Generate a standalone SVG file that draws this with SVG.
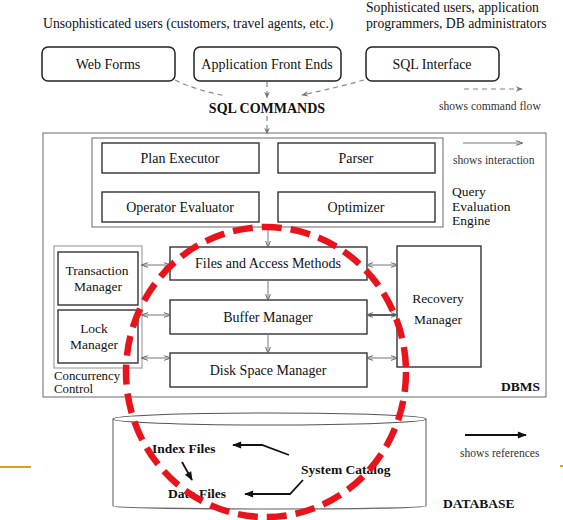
<svg xmlns="http://www.w3.org/2000/svg" width="563" height="520" viewBox="0 0 563 520">
<style>
text{font-family:"Liberation Serif","Times New Roman",serif;fill:#111}
.lbl{font-size:14px;text-anchor:middle}
.sm{font-size:11.6px;fill:#333}
.top{font-size:13.7px}
.b{font-weight:bold}
.ubox{fill:#fff;stroke:#222;stroke-width:1.5}
.box{fill:#fff;stroke:#333;stroke-width:1.4}
.frame{fill:none;stroke:#777;stroke-width:1.1}
.cmd{fill:none;stroke:#888;stroke-width:1.2;stroke-dasharray:5 4}
.int{fill:none;stroke:#777;stroke-width:1}
.ref{fill:none;stroke:#111;stroke-width:1.8}
</style>
<defs>
<marker id="mCmd" viewBox="0 0 10 10" refX="9" refY="5" markerWidth="7" markerHeight="7" orient="auto-start-reverse" markerUnits="userSpaceOnUse"><path d="M0,1 L10,5 L0,9 L3,5 Z" fill="#777"/></marker>
<marker id="mInt" viewBox="0 0 10 10" refX="9" refY="5" markerWidth="7" markerHeight="7" orient="auto-start-reverse" markerUnits="userSpaceOnUse"><path d="M0,1.5 L10,5 L0,8.5" fill="none" stroke="#666" stroke-width="1.4"/></marker>
<marker id="mRef" viewBox="0 0 10 10" refX="9" refY="5" markerWidth="10" markerHeight="9" orient="auto" markerUnits="userSpaceOnUse"><path d="M0,1 L10,5 L0,9 Z" fill="#111"/></marker>
</defs>

<!-- user labels -->
<text class="top" x="43" y="28">Unsophisticated users (customers, travel agents, etc.)</text>
<text class="top" x="366" y="12">Sophisticated users, application</text>
<text class="top" x="366" y="28">programmers, DB administrators</text>

<g id="web-forms"><rect class="ubox" x="42" y="47" width="133" height="34" rx="6"/><text class="lbl" x="108" y="69">Web Forms</text></g>
<g id="app-front-ends"><rect class="ubox" x="194" y="47" width="147" height="34" rx="6"/><text class="lbl" x="267" y="69">Application Front Ends</text></g>
<g id="sql-interface"><rect class="ubox" x="366" y="47" width="133" height="34" rx="6"/><text class="lbl" x="432" y="69">SQL Interface</text></g>

<text class="b" x="267" y="113" style="font-size:14px;text-anchor:middle">SQL COMMANDS</text>
<text class="sm" x="439" y="110">shows command flow</text>
<text class="sm" x="453" y="164">shows interaction</text>
<text class="sm" x="460" y="457">shows references</text>

<!-- DBMS frame -->
<g id="dbms"><rect class="frame" x="43" y="133" width="503" height="264"/><text class="b" x="540" y="391" style="font-size:13.5px;text-anchor:end">DBMS</text></g>

<g id="query-evaluation-engine">
<rect class="frame" x="92" y="138" width="351" height="89"/>
<text x="452" y="196" style="font-size:13.5px">Query</text>
<text x="452" y="211" style="font-size:13.5px">Evaluation</text>
<text x="452" y="225" style="font-size:13.5px">Engine</text>
</g>
<g id="plan-executor"><rect class="box" x="102" y="143" width="157" height="30"/><text class="lbl" x="180" y="163">Plan Executor</text></g>
<g id="parser"><rect class="box" x="278" y="143" width="157" height="30"/><text class="lbl" x="356" y="163">Parser</text></g>
<g id="operator-evaluator"><rect class="box" x="102" y="192" width="157" height="30"/><text class="lbl" x="180" y="212">Operator Evaluator</text></g>
<g id="optimizer"><rect class="box" x="278" y="192" width="157" height="30"/><text class="lbl" x="356" y="212">Optimizer</text></g>

<g id="files-access-methods"><rect class="box" x="170" y="247" width="197" height="33"/><text class="lbl" x="268" y="268">Files and Access Methods</text></g>
<g id="buffer-manager"><rect class="box" x="170" y="300" width="197" height="34"/><text class="lbl" x="268" y="322">Buffer Manager</text></g>
<g id="disk-space-manager"><rect class="box" x="170" y="353" width="197" height="34"/><text class="lbl" x="268" y="375">Disk Space Manager</text></g>

<g id="concurrency-control">
<rect class="frame" x="54" y="246" width="88" height="122" style="stroke:#999"/>
<text x="54" y="380" style="font-size:12.8px">Concurrency</text>
<text x="54" y="393" style="font-size:12.8px">Control</text>
</g>
<g id="transaction-manager"><rect class="box" x="58" y="252" width="80" height="53"/><text class="lbl" x="97" y="275" style="font-size:13.5px">Transaction</text><text class="lbl" x="98" y="291" style="font-size:13.5px">Manager</text></g>
<g id="lock-manager"><rect class="box" x="58" y="310" width="80" height="53"/><text class="lbl" x="94" y="333" style="font-size:13.5px">Lock</text><text class="lbl" x="94" y="349" style="font-size:13.5px">Manager</text></g>
<g id="recovery-manager"><rect class="box" x="397" y="246" width="84" height="121"/><text class="lbl" x="438" y="303" style="font-size:13.5px">Recovery</text><text class="lbl" x="438" y="324" style="font-size:13.5px">Manager</text></g>

<!-- database -->
<g id="database">
<path d="M113,419 L113,506 A156.5,3 0 0 0 426,506 L426,419" fill="#fff" stroke="#666" stroke-width="1.1"/>
<ellipse cx="269.5" cy="419" rx="156.5" ry="6" fill="#fff" stroke="#555" stroke-width="1.1"/>
<text class="b" x="443" y="508" style="font-size:13.5px">DATABASE</text>
</g>
<g id="index-files"><text class="b" x="152" y="453" style="font-size:13.5px">Index Files</text></g>
<g id="system-catalog"><text class="b" x="301" y="474" style="font-size:13.5px">System Catalog</text></g>
<g id="data-files"><text class="b" x="168" y="498" style="font-size:13.5px">Data Files</text></g>

<!-- connectors -->
<g id="connectors">
<path class="cmd" d="M175,80 Q195,90 226,96"/>
<path class="cmd" d="M364,80 Q335,88 302,95" marker-end="url(#mCmd)"/>
<path class="cmd" d="M267,82 L267,98" marker-end="url(#mCmd)"/>
<path class="cmd" d="M267,116 L267,134" marker-end="url(#mCmd)"/>
<path class="cmd" d="M464,89 L522,89" marker-end="url(#mCmd)"/>

<path class="int" d="M463,143 L522,143" marker-end="url(#mInt)"/>
<path class="int" d="M268,227 L268,247" marker-end="url(#mInt)"/>
<path class="int" d="M268,280 L268,300" marker-end="url(#mInt)"/>
<path class="int" d="M268,334 L268,353" marker-end="url(#mInt)"/>
<path class="int" d="M142,265 L170,265" marker-start="url(#mInt)" marker-end="url(#mInt)"/>
<path class="int" d="M142,315 L170,315" marker-start="url(#mInt)" marker-end="url(#mInt)"/>
<path class="int" d="M142,358 L170,358" marker-start="url(#mInt)" marker-end="url(#mInt)"/>
<path class="int" d="M367,265 L397,265" marker-start="url(#mInt)" marker-end="url(#mInt)"/>
<path class="int" d="M367,315 L397,315" style="stroke:#333;stroke-width:1.6" marker-start="url(#mInt)" marker-end="url(#mInt)"/>
<path class="int" d="M367,358 L397,358" marker-start="url(#mInt)" marker-end="url(#mInt)"/>

<path class="ref" d="M289,455 L262,445 L233,445" marker-end="url(#mRef)"/>
<path class="ref" d="M303,480 L290,494 L245,494" marker-end="url(#mRef)"/>
<path class="ref" d="M182,462 L192,480" marker-end="url(#mRef)"/>
<path class="ref" d="M465,435 L526,435" marker-end="url(#mRef)"/>
</g>

<!-- highlight overlay -->
<line x1="0" y1="467" x2="31" y2="467" stroke="#d9a21b" stroke-width="2"/>
<line x1="560" y1="466" x2="563" y2="466" stroke="#d9a21b" stroke-width="2"/>
<ellipse cx="266" cy="372" rx="140" ry="145" fill="none" stroke="#e8131b" stroke-width="6.5" stroke-dasharray="20 9"/>
</svg>
